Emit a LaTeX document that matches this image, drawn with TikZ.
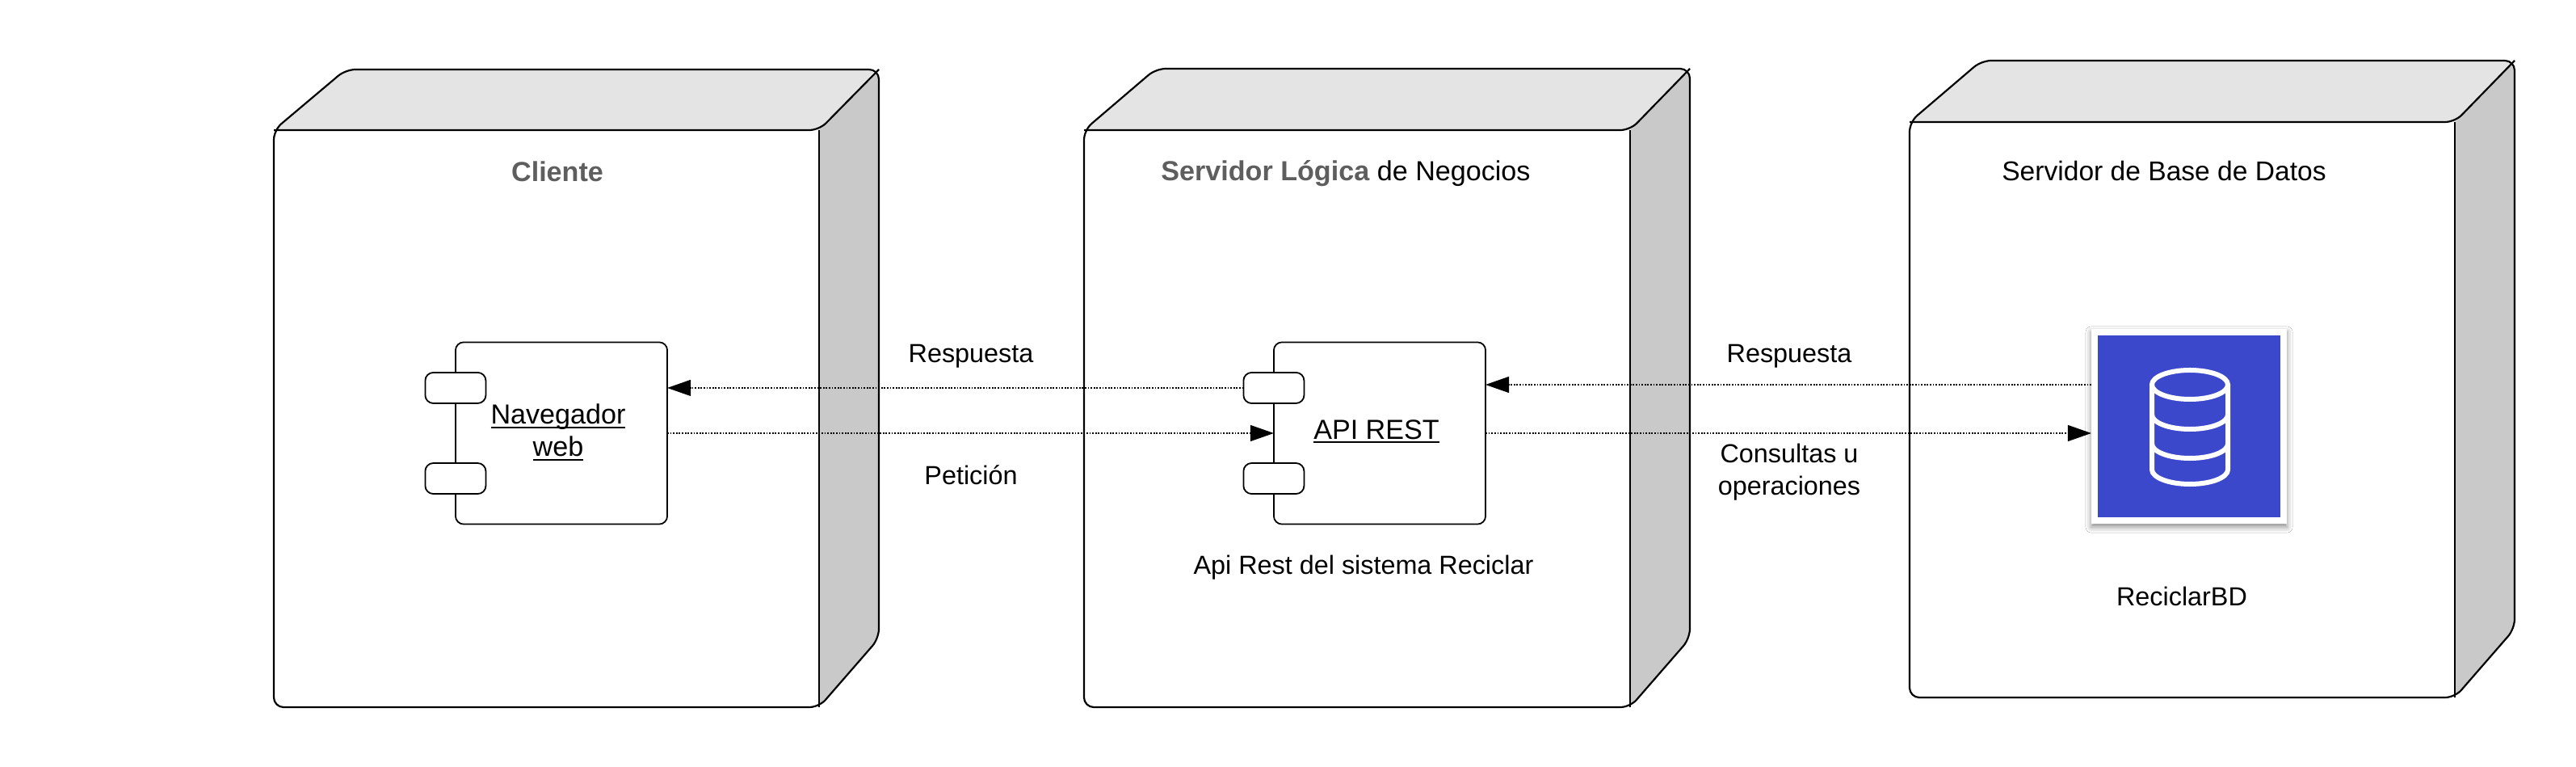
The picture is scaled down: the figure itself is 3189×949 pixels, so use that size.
\documentclass[tikz,border=0pt]{standalone}
\usepackage{fontspec}
\setmainfont{Liberation Sans}
\usepackage{xcolor}
\usetikzlibrary{arrows.meta, shadows.blur}
\definecolor{caraSup}{HTML}{E4E4E4}
\definecolor{caraLat}{HTML}{C9C9C9}
\definecolor{grisTxt}{HTML}{5E5E5E}
\definecolor{azulBD}{HTML}{3B48CC}
\newlength{\subrlen}
\newcommand{\subr}[1]{\settowidth{\subrlen}{#1}#1\llap{\rule[-0.05cm]{\subrlen}{0.022cm}}}

\begin{document}
\begin{tikzpicture}[x=0.01cm, y=-0.01cm,
				>={Triangle[length=0.29cm, width=0.2cm]},   %Punta de flecha
				font=\fontsize{9.2}{11.4}\selectfont,
				cara/.style={draw=black, line width=0.022cm, rounded corners=0.12cm, line join=round},
				componente/.style={draw=black, fill=white, line width=0.018cm, rounded corners=0.1cm, minimum width=2.62cm, minimum height=2.25cm, inner sep=0pt, outer sep=0pt},
				pestana/.style={draw=black, fill=white, line width=0.018cm, rounded corners=0.1cm, minimum width=0.75cm, minimum height=0.38cm, inner sep=0pt, outer sep=0pt},
				flecha/.style={line width=0.012cm, dash pattern=on 0.018cm off 0.018cm},
				icono/.style={draw=white, line width=0.06cm, line cap=round},
				texto/.style={inner sep=0pt, align=center},
				grande/.style={font=\fontsize{9.7}{11.4}\selectfont}]
				\useasboundingbox (0,0) rectangle (3189,949);
				% Nodos 3D
				\foreach \n/\l/\r/\t/\f/\b in {cliente/339/1014/86/161/875, logica/1342/2018/85/161/875, datos/2364/3039/75/151/863} {
					\def\silueta{(\l,\f) -- (\l+89,\t) -- (\r+74,\t) -- (\r+74,\b-85) -- (\r,\b) -- (\l,\b) -- cycle}
					\begin{scope}
						\clip[rounded corners=0.12cm] \silueta;
						\fill[white] (\l,\t) rectangle (\r+74,\b);
						\fill[caraSup] (\l,\f) -- (\l+89,\t) -- (\r+74,\t) -- (\r,\f) -- cycle;
						\fill[caraLat] (\r,\f) -- (\r+74,\t) -- (\r+74,\b) -- (\r,\b) -- cycle;
					\end{scope}
					\draw[cara] (\l,\f) -- (\r,\f) -- (\r+74,\t);
					\draw[cara, rounded corners=0pt] (\r,\f) -- (\r,\b);
					\draw[cara] \silueta;
					\coordinate (\n) at (\l,\f);
				}
				% Titulos de los nodos
				\node[texto, grande, text=grisTxt] (tcliente) at (690,212) {\textbf{Cliente}};
				\node[texto, grande] (tlogica) at (1666,215) {\textcolor{grisTxt}{\textbf{Servidor Lógica}} de Negocios};
				\node[texto, font=\fontsize{9.55}{11.4}\selectfont] (tdatos) at (2679,212) {Servidor de Base de Datos};
				% Componentes
				\node[componente] (nav) at (695,536) {};
				\node[componente] (api) at (1708,536) {};
				\foreach \c in {nav, api} {
					\node[pestana] (\c a) at ([yshift=0.56cm]\c.west) {};
					\node[pestana] (\c b) at ([yshift=-0.56cm]\c.west) {};
				}
				\node[texto, grande] (tnav) at (691,535) {\subr{Navegador}\\\subr{web}};
				\node[texto, grande] (tapi) at (1704,534) {\subr{API REST}};
				\node[texto] (dapi) at (1688,702) {Api Rest del sistema Reciclar};
				% Base de datos
				\node[fill=white, blur shadow={shadow xshift=0cm, shadow yshift=-0.04cm, shadow blur radius=0.07cm, shadow opacity=45}, minimum width=2.42cm, minimum height=2.41cm, inner sep=0pt, outer sep=0pt] (db) at (2710,527.5) {};
				\node[fill=azulBD, minimum width=2.25cm, minimum height=2.25cm, inner sep=0pt] (dbfondo) at (db) {};
				\draw[icono] (2711,476) ellipse [x radius=0.47cm, y radius=0.18cm];
				\draw[icono] (2664,476) -- (2664,581) arc[start angle=180, end angle=360, x radius=0.47cm, y radius=0.18cm] -- (2758,476);
				\foreach \y in {513,549} \draw[icono] (2664,\y) arc[start angle=180, end angle=360, x radius=0.47cm, y radius=0.18cm];
				\node[texto] (tdb) at (2701,738) {ReciclarBD};
				% Flechas
				\coordinate (dbresp) at (db.west |- 0,476);
				\draw[flecha, ->] (apia.west) -- (nav.east |- apia.west);
				\draw[flecha, ->] (nav.east) -- (api.west);
				\draw[flecha, ->] (dbresp) -- (api.east |- dbresp);
				\draw[flecha, ->] (api.east) -- (db.west |- api.east);
				% Etiquetas de las flechas
				\node[texto] (r1) at (1202,441) {Respuesta};
				\node[texto] (p1) at (1202,588) {Petición};
				\node[texto] (r2) at (2215,441) {Respuesta};
				\node[texto] (c2) at (2215,584) {Consultas u\\operaciones};
			\end{tikzpicture}
\end{document}
